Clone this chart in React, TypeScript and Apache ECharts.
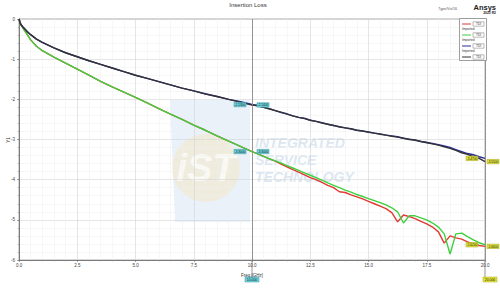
import React, { useEffect, useRef } from "react";
import * as echarts from "echarts";

const freq = [
  0, 0.05, 0.1, 0.2, 0.35, 0.5, 0.75, 1, 1.5, 2, 2.5, 3, 3.5, 4, 4.5, 5, 5.5, 6, 6.5, 7, 7.5, 8, 8.5, 9, 9.5, 10,
  10.25, 10.5, 10.75, 11, 11.25, 11.5, 11.75, 12, 12.25, 12.5, 12.75, 13, 13.25, 13.5, 13.75, 14, 14.25, 14.5, 14.75, 15,
  15.25, 15.5, 15.75, 16, 16.25, 16.5, 16.75, 17, 17.25, 17.5, 17.75, 18, 18.25, 18.5, 18.75, 19, 19.25, 19.5, 19.75, 20,
];

const redSeries = [
  0, -0.1, -0.16, -0.25, -0.38, -0.52, -0.68, -0.79, -0.95, -1.1, -1.25, -1.4, -1.55, -1.69, -1.82, -1.95, -2.09, -2.23, -2.37, -2.5, -2.64, -2.77, -2.91, -3.04, -3.17, -3.3,
  -3.36, -3.42, -3.48, -3.54, -3.61, -3.68, -3.75, -3.81, -3.88, -3.95, -4.0, -4.07, -4.14, -4.2, -4.3, -4.32, -4.38, -4.43, -4.48, -4.54,
  -4.6, -4.66, -4.72, -4.82, -5.05, -4.88, -4.92, -4.97, -5.04, -5.1, -5.18, -5.3, -5.58, -5.4, -5.45, -5.48, -5.55, -5.6, -5.64, -5.66,
];

const greenSeries = [
  0, -0.1, -0.16, -0.25, -0.38, -0.52, -0.68, -0.79, -0.95, -1.1, -1.25, -1.4, -1.55, -1.69, -1.82, -1.95, -2.09, -2.23, -2.37, -2.5, -2.64, -2.77, -2.91, -3.04, -3.17, -3.3,
  -3.36, -3.42, -3.48, -3.53, -3.59, -3.65, -3.71, -3.77, -3.83, -3.89, -3.95, -4.01, -4.08, -4.14, -4.2, -4.26, -4.31, -4.37, -4.42, -4.47,
  -4.52, -4.57, -4.63, -4.7, -4.8, -5.08, -4.9, -4.9, -4.95, -5.0, -5.08, -5.18, -5.35, -5.85, -5.35, -5.33, -5.42, -5.5, -5.57, -5.62,
];

const blueSeries = [
  0, -0.1, -0.15, -0.22, -0.31, -0.39, -0.5, -0.58, -0.72, -0.84, -0.94, -1.04, -1.13, -1.22, -1.31, -1.4, -1.48, -1.56, -1.64, -1.72, -1.79, -1.86, -1.93, -2.0, -2.06, -2.13,
  -2.15, -2.2, -2.23, -2.28, -2.33, -2.36, -2.41, -2.45, -2.47, -2.52, -2.55, -2.58, -2.62, -2.65, -2.68, -2.71, -2.73, -2.77, -2.79, -2.81,
  -2.84, -2.86, -2.89, -2.91, -2.93, -2.97, -2.99, -3.01, -3.05, -3.07, -3.1, -3.13, -3.16, -3.2, -3.25, -3.3, -3.35, -3.38, -3.43, -3.47,
];

const blackSeries = [
  0, -0.1, -0.15, -0.22, -0.31, -0.39, -0.5, -0.58, -0.72, -0.84, -0.94, -1.04, -1.13, -1.22, -1.31, -1.4, -1.48, -1.56, -1.64, -1.72, -1.79, -1.87, -1.93, -2.0, -2.07, -2.14,
  -2.16, -2.2, -2.24, -2.28, -2.32, -2.37, -2.41, -2.45, -2.48, -2.52, -2.55, -2.59, -2.62, -2.65, -2.69, -2.71, -2.74, -2.77, -2.79, -2.82,
  -2.84, -2.87, -2.89, -2.92, -2.94, -2.97, -3.0, -3.02, -3.05, -3.08, -3.11, -3.14, -3.18, -3.22, -3.27, -3.33, -3.37, -3.43, -3.47, -3.55,
];

const legendColors = ["#e03a32", "#3fd03f", "#2b2f9e", "#333333"];
const legendTop = ["TDI", "TDI", "TDI", "TDI"];
const legendBottom = ["Imported", "Imported", "Imported", "Imported"];
const markerFreqs = [10, 20];
const markerAxisLabels = ["10.000", "20.000"];

const CYAN = "#6fd3df";
const YELLOW = "#e4e43a";

export default function App() {
  const ref = useRef<HTMLDivElement>(null);
  useEffect(() => {
    const chart = echarts.init(ref.current!, null, { renderer: "svg" });
    const pair = (ys: number[]) => freq.map((f, i) => [f, ys[i]]);
    const i10 = freq.indexOf(markerFreqs[0]);
    const i20 = freq.indexOf(markerFreqs[1]);

    const mk = (ys: number[], side: number) => ({
      symbol: "rect",
      silent: true,
      label: {
        show: true,
        position: "inside",
        fontSize: 3.1,
        color: "#111",
        fontFamily: "Liberation Sans",
        formatter: (p: any) => Number(p.value).toFixed(4),
      },
      data: [
        {
          coord: [freq[i10], ys[i10]],
          value: ys[i10],
          symbolSize: [12, 4.4],
          symbolOffset: [side > 0 ? 11 : -12, 0],
          itemStyle: { color: CYAN, borderColor: "#3a9aa6", borderWidth: 0.5 },
        },
        {
          coord: [freq[i20], ys[i20]],
          value: ys[i20],
          symbolSize: [12, 4.4],
          symbolOffset: [side > 0 ? 8 : -13, 0],
          itemStyle: { color: YELLOW, borderColor: "#a8a820", borderWidth: 0.5 },
        },
      ],
    });

    const mkSeries = (name: string, ys: number[], color: string, side: number, extra: any = {}) => ({
      name,
      type: "line",
      data: pair(ys),
      showSymbol: false,
      symbol: "none",
      lineStyle: { color, width: 1.4 },
      itemStyle: { color },
      markPoint: mk(ys, side),
      ...extra,
    });

    const staticGraphic: any[] = [
      // watermark
      {
        id: "wm-rect",
        type: "polygon",
        z: 0,
        shape: { points: [[170, 100], [250, 100], [250, 222], [175, 222]] },
        style: { fill: "#d3e4f5", opacity: 0.5 },
        silent: true,
      },
      {
        id: "wm-circle",
        type: "circle",
        z: 0,
        shape: { cx: 206, cy: 168, r: 34 },
        style: { fill: "#f6e6bd", opacity: 0.45 },
        silent: true,
      },
      {
        id: "wm-ist",
        type: "text",
        z: 0,
        x: 206,
        y: 168,
        style: {
          text: "iST",
          fontSize: 38,
          fontWeight: "bold",
          fontStyle: "italic",
          fontFamily: "Liberation Sans",
          fill: "#ffffff",
          opacity: 0.7,
          align: "center",
          verticalAlign: "middle",
        },
        silent: true,
      },
      ...["INTEGRATED", "SERVICE", "TECHNOLOGY"].map((t, k) => ({
        id: "wm-t" + k,
        type: "text",
        z: 0,
        x: 255,
        y: 143 + k * 17,
        style: {
          text: t,
          fontSize: 14,
          fontWeight: "bold",
          fontStyle: "italic",
          fontFamily: "Liberation Sans",
          fill: "#bed2e8",
          opacity: 0.55,
          align: "left",
          verticalAlign: "middle",
        },
        silent: true,
      })),
      // y axis title
      {
        id: "ytitle",
        type: "text",
        x: 8,
        y: 140,
        rotation: Math.PI / 2,
        style: {
          text: "Y1",
          fontSize: 4.5,
          fontFamily: "Liberation Sans",
          fill: "#333",
          align: "center",
          verticalAlign: "middle",
        },
      },
      // header
      {
        id: "title",
        type: "text",
        x: 248,
        y: 5,
        style: {
          text: "Insertion Loss",
          fontSize: 6,
          fontFamily: "Liberation Sans",
          fill: "#333",
          align: "center",
          verticalAlign: "middle",
        },
      },
      {
        id: "typ",
        type: "text",
        x: 457,
        y: 9,
        style: {
          text: "Type/Vis/16",
          fontSize: 3.6,
          fontFamily: "Liberation Sans",
          fill: "#555",
          align: "right",
          verticalAlign: "middle",
        },
      },
      {
        id: "ansys",
        type: "text",
        x: 496,
        y: 7,
        style: {
          text: "Ansys",
          fontSize: 7.5,
          fontWeight: "bold",
          fontFamily: "Liberation Sans",
          fill: "#222",
          align: "right",
          verticalAlign: "middle",
        },
      },
      {
        id: "ver",
        type: "text",
        x: 496,
        y: 12.5,
        style: {
          text: "2023 R2",
          fontSize: 3.4,
          fontWeight: "bold",
          fontFamily: "Liberation Sans",
          fill: "#222",
          align: "right",
          verticalAlign: "middle",
        },
      },
      // legend box
      {
        id: "lg-box",
        type: "rect",
        z: 10,
        shape: { x: 459.5, y: 18.5, width: 27, height: 42 },
        style: { fill: "#ffffff", stroke: "#888", lineWidth: 0.8 },
      },
      ...legendColors.flatMap((c, k) => {
        const y = 24 + k * 11;
        const els: any[] = [
          {
            id: "lg-l" + k,
            type: "line",
            z: 11,
            shape: { x1: 462, y1: y, x2: 471, y2: y },
            style: { stroke: c, lineWidth: 1 },
          },
          {
            id: "lg-r" + k,
            type: "rect",
            z: 11,
            shape: { x: 473, y: y - 2.2, width: 11, height: 4.4 },
            style: { fill: "#fff", stroke: "#777", lineWidth: 0.5 },
          },
          {
            id: "lg-t" + k,
            type: "text",
            z: 12,
            x: 478.5,
            y: y,
            style: {
              text: legendTop[k],
              fontSize: 3.2,
              fontFamily: "Liberation Sans",
              fill: "#333",
              align: "center",
              verticalAlign: "middle",
            },
          },
        ];
        if (y + 5 < 60) {
          els.push({
            id: "lg-b" + k,
            type: "text",
            z: 12,
            x: 462,
            y: y + 5,
            style: {
              text: legendBottom[k],
              fontSize: 3.2,
              fontFamily: "Liberation Sans",
              fill: "#333",
              align: "left",
              verticalAlign: "middle",
            },
          });
        }
        return els;
      }),
    ];

    chart.setOption({
      animation: false,
      backgroundColor: "#ffffff",
      textStyle: { fontFamily: "Liberation Sans" },
      grid: {
        left: 19,
        right: 15,
        top: 19,
        bottom: 31,
        show: true,
        borderColor: "#9a9a9a",
        borderWidth: 0.8,
        containLabel: false,
        outerBoundsMode: "none",
      },
      xAxis: {
        type: "value",
        min: 0,
        max: 20,
        interval: 2.5,
        name: "Freq [GHz]",
        nameLocation: "middle",
        nameGap: 8,
        nameTextStyle: { fontSize: 4.5, color: "#333" },
        axisLine: { show: true, onZero: false, lineStyle: { color: "#666", width: 0.8 } },
        axisTick: { show: true, length: 2, lineStyle: { color: "#666", width: 0.6 } },
        minorTick: { show: true, splitNumber: 5, length: 1.2, lineStyle: { color: "#777", width: 0.5 } },
        axisLabel: {
          fontSize: 4.5,
          color: "#444",
          margin: 3,
          formatter: (v: number) => v.toFixed(1),
        },
        splitLine: { show: true, lineStyle: { color: "#d4d4d4", width: 0.6 } },
        minorSplitLine: { show: true, lineStyle: { color: "#eeeeee", width: 0.5 } },
      },
      yAxis: {
        type: "value",
        min: -6,
        max: 0,
        interval: 1,
        axisLine: { show: true, onZero: false, lineStyle: { color: "#666", width: 0.8 } },
        axisTick: { show: true, length: 2, lineStyle: { color: "#666", width: 0.6 } },
        minorTick: { show: true, splitNumber: 5, length: 1.2, lineStyle: { color: "#777", width: 0.5 } },
        axisLabel: { fontSize: 4.5, color: "#444", margin: 4 },
        splitLine: { show: true, lineStyle: { color: "#d4d4d4", width: 0.6 } },
        minorSplitLine: { show: true, lineStyle: { color: "#eeeeee", width: 0.5 } },
      },
      series: [
        mkSeries("TDI Red", redSeries, legendColors[0], 1, {
          markLine: {
            silent: true,
            symbol: "none",
            label: { show: false },
            lineStyle: { color: "#8a8a8a", width: 0.9, type: "solid" },
            data: markerFreqs.map((f) => ({ xAxis: f })),
          },
        }),
        mkSeries("TDI Green", greenSeries, legendColors[1], -1),
        mkSeries("TDI Blue", blueSeries, legendColors[2], -1),
        mkSeries("TDI Black", blackSeries, legendColors[3], 1),
      ],
      graphic: staticGraphic,
    });

    const dyn: any[] = [];
    markerFreqs.forEach((f, k) => {
      const top = chart.convertToPixel({ gridIndex: 0 }, [f, -6]) as number[];
      const px = top[0];
      const py = top[1];
      const boxX = k === 1 ? Math.min(px + 5, 500 - 7.5) : px;
      dyn.push({
        id: "mx-line" + k,
        type: "line",
        shape: { x1: px, y1: py, x2: px, y2: py + 17 },
        style: { stroke: "#8a8a8a", lineWidth: 0.9 },
      });
      dyn.push({
        id: "mx-box" + k,
        type: "rect",
        shape: { x: boxX - 7, y: py + 17, width: 14, height: 5 },
        style: {
          fill: k === 0 ? CYAN : YELLOW,
          stroke: k === 0 ? "#3a9aa6" : "#a8a820",
          lineWidth: 0.5,
        },
      });
      dyn.push({
        id: "mx-txt" + k,
        type: "text",
        x: boxX,
        y: py + 19.5,
        style: {
          text: markerAxisLabels[k],
          fontSize: 3.4,
          fontFamily: "Liberation Sans",
          fill: "#111",
          align: "center",
          verticalAlign: "middle",
        },
      });
    });
    chart.setOption({ graphic: [...staticGraphic, ...dyn] });

    return () => chart.dispose();
  }, []);
  return <div ref={ref} style={{ position: "fixed", left: 0, top: 0, width: 500, height: 291 }} />;
}
